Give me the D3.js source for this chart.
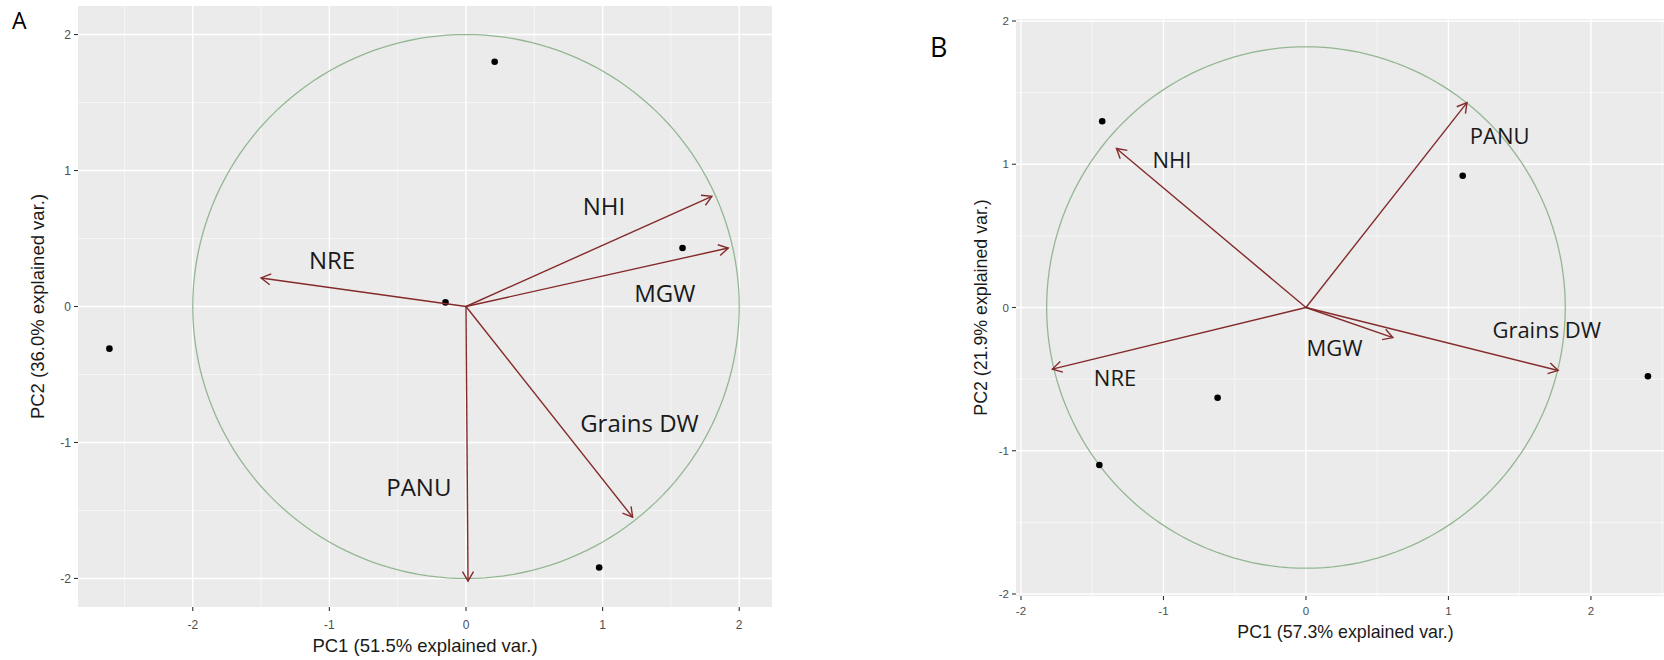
<!DOCTYPE html>
<html>
<head>
<meta charset="utf-8">
<script src="https://cdn.jsdelivr.net/npm/d3@7"></script>
<style>
  body { margin: 0; background: #ffffff; }
  svg { display: block; }
</style>
</head>
<body>
<svg id="chart" width="1664" height="660"></svg>
<script>
// ---- data ----
// panel A
var varNamesA = ["NHI", "MGW", "NRE", "Grains DW", "PANU"];
var loadingsA = [[1.80, 0.81], [1.92, 0.43], [-1.50, 0.21], [1.22, -1.55], [0.015, -2.02]];
var labelPosA = [[1.01, 0.74], [1.455, 0.10], [-0.98, 0.34], [1.27, -0.86], [-0.345, -1.33]];
var scoresA = [[0.21, 1.80], [1.585, 0.43], [-0.15, 0.03], [-2.61, -0.31], [0.975, -1.92]];
var circleRadiusA = 2;

// panel B
var varNamesB = ["NHI", "PANU", "NRE", "MGW", "Grains DW"];
var loadingsB = [[-1.33, 1.11], [1.13, 1.43], [-1.78, -0.43], [0.61, -0.21], [1.77, -0.44]];
var labelPosB = [[-0.94, 1.03], [1.36, 1.20], [-1.34, -0.49], [0.20, -0.28], [1.69, -0.16]];
var scoresB = [[-1.43, 1.30], [1.10, 0.92], [-0.62, -0.63], [-1.45, -1.10], [2.40, -0.48]];
var circleRadiusB = 1.82;

var majorTicks = [-2, -1, 0, 1, 2];
var minorTicks = [-2.5, -1.5, -0.5, 0.5, 1.5, 2.5];

var svg = d3.select("#chart");

var arrowCol = "#842a2a";
var circleCol = "#93b793";

function drawPanel(cfg){
	var g = svg.append("g");
	var x = d3.scaleLinear().domain(cfg.xDomain).range([cfg.left, cfg.right]);
	var y = d3.scaleLinear().domain(cfg.yDomain).range([cfg.bottom, cfg.top]);

	var clipId = "clip" + cfg.tag;
	svg.append("clipPath").attr("id", clipId).append("rect")
		.attr("x", cfg.left).attr("y", cfg.top)
		.attr("width", cfg.right - cfg.left).attr("height", cfg.bottom - cfg.top);

	//panel background
	g.append("rect")
		.attr("x", cfg.left).attr("y", cfg.top)
		.attr("width", cfg.right - cfg.left).attr("height", cfg.bottom - cfg.top)
		.attr("fill", "#ebebeb");

	var inner = g.append("g").attr("clip-path", "url(#" + clipId + ")");

	//grid: minor then major
	inner.selectAll("line.vminor").data(minorTicks).enter().append("line")
		.attr("x1", x).attr("x2", x).attr("y1", cfg.top).attr("y2", cfg.bottom)
		.attr("stroke", "#fafafa").attr("stroke-width", 0.7);
	inner.selectAll("line.hminor").data(minorTicks).enter().append("line")
		.attr("y1", y).attr("y2", y).attr("x1", cfg.left).attr("x2", cfg.right)
		.attr("stroke", "#fafafa").attr("stroke-width", 0.7);
	inner.selectAll("line.vmajor").data(majorTicks).enter().append("line")
		.attr("x1", x).attr("x2", x).attr("y1", cfg.top).attr("y2", cfg.bottom)
		.attr("stroke", "#ffffff").attr("stroke-width", 1.4);
	inner.selectAll("line.hmajor").data(majorTicks).enter().append("line")
		.attr("y1", y).attr("y2", y).attr("x1", cfg.left).attr("x2", cfg.right)
		.attr("stroke", "#ffffff").attr("stroke-width", 1.4);

	//correlation circle
	var circlePts = d3.range(0, 361, 2).map(function(a){
		var t = a * Math.PI / 180;
		return [cfg.radius * Math.cos(t), cfg.radius * Math.sin(t)];
	});
	inner.append("path")
		.attr("d", d3.line().x(function(d){return x(d[0])}).y(function(d){return y(d[1])})(circlePts))
		.attr("fill", "none").attr("stroke", circleCol).attr("stroke-width", 1.3);

	//points
	inner.selectAll("circle.obs").data(cfg.scores).enter().append("circle")
		.attr("cx", function(d){return x(d[0])})
		.attr("cy", function(d){return y(d[1])})
		.attr("r", 3.3).attr("fill", "#000000");

	//arrows with open heads
	var arrows = inner.selectAll("g.arrow").data(cfg.loadings).enter().append("g");
	arrows.append("line")
		.attr("x1", x(0)).attr("y1", y(0))
		.attr("x2", function(d){return x(d[0])})
		.attr("y2", function(d){return y(d[1])})
		.attr("stroke", arrowCol).attr("stroke-width", 1.4);
	arrows.append("path")
		.attr("d", function(d){
			var ex = x(d[0]), ey = y(d[1]);
			var th = Math.atan2(ey - y(0), ex - x(0));
			var L = 11, a = Math.PI / 6;
			return "M" + (ex - L * Math.cos(th - a)) + "," + (ey - L * Math.sin(th - a)) +
				"L" + ex + "," + ey +
				"L" + (ex - L * Math.cos(th + a)) + "," + (ey - L * Math.sin(th + a));
		})
		.attr("fill", "none").attr("stroke", arrowCol).attr("stroke-width", 1.4);

	//variable labels
	inner.selectAll("text.var").data(cfg.labelPos).enter().append("text")
		.attr("x", function(d){return x(d[0])})
		.attr("y", function(d){return y(d[1])})
		.attr("dy", "0.36em")
		.attr("text-anchor", "middle")
		.style("font-family", "'Open Sans', sans-serif")
		.style("font-size", cfg.labelSize + "px")
		.attr("fill", "#1a1a1a")
		.text(function(d, i){return cfg.names[i]});

	//axes ticks and labels
	var tickCol = "#333333", tickTxt = "#4d4d4d";
	g.selectAll("line.xt").data(majorTicks).enter().append("line")
		.attr("x1", x).attr("x2", x).attr("y1", cfg.bottom).attr("y2", cfg.bottom + 4)
		.attr("stroke", tickCol).attr("stroke-width", 1.1);
	g.selectAll("text.xt").data(majorTicks).enter().append("text")
		.attr("x", x).attr("y", cfg.xTickY)
		.attr("text-anchor", "middle")
		.style("font-family", "'Liberation Sans', Arial, sans-serif")
		.style("font-size", cfg.tickSize + "px")
		.attr("fill", tickTxt)
		.text(function(d){return d});
	g.selectAll("line.yt").data(majorTicks).enter().append("line")
		.attr("y1", y).attr("y2", y).attr("x1", cfg.left - 4).attr("x2", cfg.left)
		.attr("stroke", tickCol).attr("stroke-width", 1.1);
	g.selectAll("text.yt").data(majorTicks).enter().append("text")
		.attr("x", cfg.left - 7).attr("y", y)
		.attr("dy", "0.36em")
		.attr("text-anchor", "end")
		.style("font-family", "'Liberation Sans', Arial, sans-serif")
		.style("font-size", cfg.tickSize + "px")
		.attr("fill", tickTxt)
		.text(function(d){return d});

	//axis titles
	g.append("text")
		.attr("x", (cfg.left + cfg.right) / 2).attr("y", cfg.xTitleY)
		.attr("text-anchor", "middle")
		.style("font-family", "'Liberation Sans', Arial, sans-serif")
		.style("font-size", cfg.titleSize + "px")
		.attr("fill", "#1a1a1a")
		.text(cfg.xTitle);
	g.append("text")
		.attr("transform", "translate(" + cfg.yTitleX + "," + ((cfg.top + cfg.bottom) / 2) + ") rotate(-90)")
		.attr("text-anchor", "middle")
		.style("font-family", "'Liberation Sans', Arial, sans-serif")
		.style("font-size", cfg.titleSize + "px")
		.attr("fill", "#1a1a1a")
		.text(cfg.yTitle);

	//panel letter
	g.append("text")
		.attr("x", cfg.letterX).attr("y", cfg.letterY)
		.style("font-family", "'Open Sans', sans-serif")
		.style("font-size", cfg.letterSize + "px")
		.attr("fill", "#000000")
		.text(cfg.tag);
}

drawPanel({
	tag: "A", names: varNamesA, loadings: loadingsA, labelPos: labelPosA, scores: scoresA,
	radius: circleRadiusA,
	left: 78, right: 772, top: 6, bottom: 607,
	xDomain: [-2.84, 2.24], yDomain: [-2.21, 2.21],
	labelSize: 24, tickSize: 12, titleSize: 18.5,
	xTickY: 629, xTitleY: 652, yTitleX: 44,
	xTitle: "PC1 (51.5% explained var.)", yTitle: "PC2 (36.0% explained var.)",
	letterX: 12, letterY: 29, letterSize: 23
});

drawPanel({
	tag: "B", names: varNamesB, loadings: loadingsB, labelPos: labelPosB, scores: scoresB,
	radius: circleRadiusB,
	left: 1016, right: 1675, top: 19, bottom: 596,
	xDomain: [-2.035, 2.59], yDomain: [-2.014, 2.014],
	labelSize: 22, tickSize: 11.5, titleSize: 17.8,
	xTickY: 615, xTitleY: 638, yTitleX: 987,
	xTitle: "PC1 (57.3% explained var.)", yTitle: "PC2 (21.9% explained var.)",
	letterX: 930, letterY: 57, letterSize: 27
});
</script>
</body>
</html>
